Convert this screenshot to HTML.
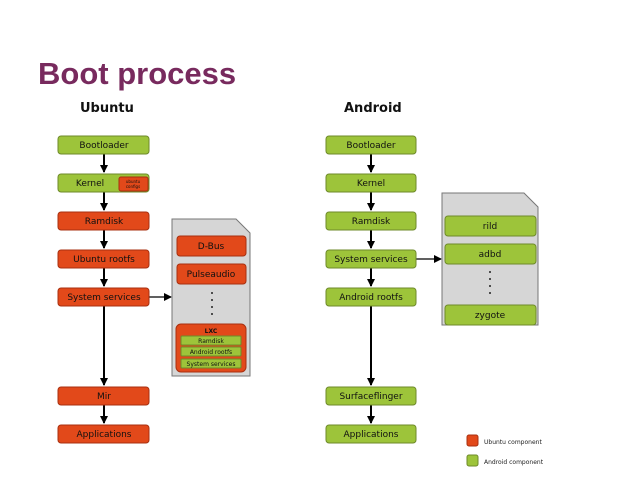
<!DOCTYPE html>
<html><head><style>
html,body{margin:0;padding:0;background:#fff;}
svg text{font-family:"DejaVu Sans","Liberation Sans",sans-serif;}
</style></head><body>
<svg width="638" height="479" viewBox="0 0 638 479" xmlns="http://www.w3.org/2000/svg">
<defs>
<marker id="ah" markerWidth="8" markerHeight="8" refX="7" refY="4" orient="auto" markerUnits="userSpaceOnUse">
<path d="M0,0 L8,4 L0,8 z" fill="#000"/></marker>
</defs>
<text x="38" y="84" font-family="Liberation Sans" style="font-family:'Liberation Sans',sans-serif" font-weight="bold" font-size="31" fill="#782a5e">Boot process</text>
<text x="80" y="112" font-weight="bold" font-size="13" fill="#111">Ubuntu</text>
<text x="344" y="112" font-weight="bold" font-size="13" fill="#111">Android</text>

<g stroke="#000" stroke-width="2" marker-end="url(#ah)">
<line x1="104" y1="154" x2="104" y2="172"/>
<line x1="104" y1="192" x2="104" y2="210"/>
<line x1="104" y1="230" x2="104" y2="248"/>
<line x1="104" y1="268" x2="104" y2="286"/>
<line x1="104" y1="306" x2="104" y2="385"/>
<line x1="104" y1="405" x2="104" y2="423"/>
<line x1="371" y1="154" x2="371" y2="172"/>
<line x1="371" y1="192" x2="371" y2="210"/>
<line x1="371" y1="230" x2="371" y2="248"/>
<line x1="371" y1="268" x2="371" y2="286"/>
<line x1="371" y1="306" x2="371" y2="385"/>
<line x1="371" y1="405" x2="371" y2="423"/>
</g>
<g stroke="#000" stroke-width="1.2" marker-end="url(#ah)">
<line x1="149" y1="297" x2="171" y2="297"/>
<line x1="416" y1="259" x2="441" y2="259"/>
</g>

<!-- gray docs -->
<path d="M172,219 L236,219 L250,233 L250,376 L172,376 Z" fill="#d6d6d6" stroke="#777" stroke-width="1"/>
<path d="M442,193 L524,193 L538,207 L538,325 L442,325 Z" fill="#d6d6d6" stroke="#777" stroke-width="1"/>

<g font-size="9" text-anchor="middle" fill="#111">
<g stroke-width="1">
<rect x="58" y="136" width="91" height="18" rx="3" fill="#9dc43a" stroke="#6e8a2a"/>
<rect x="58" y="174" width="91" height="18" rx="3" fill="#9dc43a" stroke="#6e8a2a"/>
<rect x="119" y="177" width="29" height="14" rx="2" fill="#e2491a" stroke="#a83010"/>
<rect x="58" y="212" width="91" height="18" rx="3" fill="#e2491a" stroke="#a83010"/>
<rect x="58" y="250" width="91" height="18" rx="3" fill="#e2491a" stroke="#a83010"/>
<rect x="58" y="288" width="91" height="18" rx="3" fill="#e2491a" stroke="#a83010"/>
<rect x="58" y="387" width="91" height="18" rx="3" fill="#e2491a" stroke="#a83010"/>
<rect x="58" y="425" width="91" height="18" rx="3" fill="#e2491a" stroke="#a83010"/>
<rect x="177" y="236" width="69" height="20" rx="3" fill="#e2491a" stroke="#a83010"/>
<rect x="177" y="264" width="69" height="20" rx="3" fill="#e2491a" stroke="#a83010"/>
<rect x="176" y="324" width="70" height="48" rx="5" fill="#e2491a" stroke="#a83010"/>
<rect x="181" y="336" width="60" height="9" rx="1" fill="#9dc43a" stroke="#6e8a2a"/>
<rect x="181" y="347" width="60" height="9" rx="1" fill="#9dc43a" stroke="#6e8a2a"/>
<rect x="181" y="359" width="60" height="9" rx="1" fill="#9dc43a" stroke="#6e8a2a"/>

<rect x="326" y="136" width="90" height="18" rx="3" fill="#9dc43a" stroke="#6e8a2a"/>
<rect x="326" y="174" width="90" height="18" rx="3" fill="#9dc43a" stroke="#6e8a2a"/>
<rect x="326" y="212" width="90" height="18" rx="3" fill="#9dc43a" stroke="#6e8a2a"/>
<rect x="326" y="250" width="90" height="18" rx="3" fill="#9dc43a" stroke="#6e8a2a"/>
<rect x="326" y="288" width="90" height="18" rx="3" fill="#9dc43a" stroke="#6e8a2a"/>
<rect x="326" y="387" width="90" height="18" rx="3" fill="#9dc43a" stroke="#6e8a2a"/>
<rect x="326" y="425" width="90" height="18" rx="3" fill="#9dc43a" stroke="#6e8a2a"/>
<rect x="445" y="216" width="91" height="20" rx="3" fill="#9dc43a" stroke="#6e8a2a"/>
<rect x="445" y="244" width="91" height="20" rx="3" fill="#9dc43a" stroke="#6e8a2a"/>
<rect x="445" y="305" width="91" height="20" rx="3" fill="#9dc43a" stroke="#6e8a2a"/>
<rect x="467" y="435" width="11" height="11" rx="2" fill="#e2491a" stroke="#a83010"/>
<rect x="467" y="455" width="11" height="11" rx="2" fill="#9dc43a" stroke="#6e8a2a"/>
</g>
<text x="104" y="148">Bootloader</text>
<text x="90" y="186">Kernel</text>
<text x="133" y="183" font-size="4">ubuntu</text>
<text x="133" y="188" font-size="4">configs</text>
<text x="104" y="224">Ramdisk</text>
<text x="104" y="262">Ubuntu rootfs</text>
<text x="104" y="300">System services</text>
<text x="104" y="399">Mir</text>
<text x="104" y="437">Applications</text>
<text x="211" y="249">D-Bus</text>
<text x="211" y="277">Pulseaudio</text>
<text x="211" y="333" font-size="6" font-weight="bold">LXC</text>
<text x="211" y="343" font-size="6">Ramdisk</text>
<text x="211" y="354" font-size="6">Android rootfs</text>
<text x="211" y="366" font-size="6">System services</text>

<text x="371" y="148">Bootloader</text>
<text x="371" y="186">Kernel</text>
<text x="371" y="224">Ramdisk</text>
<text x="371" y="262">System services</text>
<text x="371" y="300">Android rootfs</text>
<text x="371" y="399">Surfaceflinger</text>
<text x="371" y="437">Applications</text>
<text x="490" y="229">rild</text>
<text x="490" y="257">adbd</text>
<text x="490" y="318">zygote</text>
</g>
<g fill="#222">
<circle cx="212" cy="293" r="1"/><circle cx="212" cy="300" r="1"/><circle cx="212" cy="307" r="1"/><circle cx="212" cy="314" r="1"/>
<circle cx="490" cy="272" r="1"/><circle cx="490" cy="279" r="1"/><circle cx="490" cy="286" r="1"/><circle cx="490" cy="293" r="1"/>
</g>
<text x="484" y="444" font-size="6" fill="#222">Ubuntu component</text>
<text x="484" y="464" font-size="6" fill="#222">Android component</text>
</svg>
</body></html>
